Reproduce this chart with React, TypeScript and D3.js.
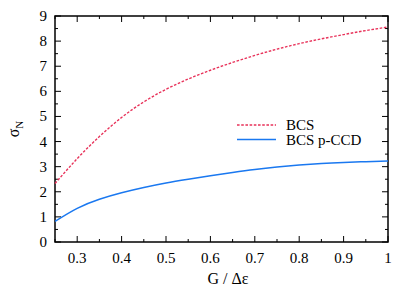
import React, { useEffect, useRef } from "react";
import * as d3 from "d3";

// G / Δε sample points
const gValues = [0.25, 0.3, 0.35, 0.4, 0.45, 0.5, 0.55, 0.6, 0.65, 0.7, 0.75, 0.8, 0.85, 0.9, 0.95, 1.0];
// BCS values (red dashed)
const bcsValues = [2.33, 3.32, 4.2, 4.96, 5.58, 6.08, 6.49, 6.84, 7.15, 7.43, 7.68, 7.9, 8.09, 8.26, 8.42, 8.56];
// BCS p-CCD values (blue solid)
const pccdValues = [0.82, 1.34, 1.7, 1.96, 2.17, 2.35, 2.5, 2.64, 2.77, 2.89, 2.99, 3.07, 3.13, 3.17, 3.2, 3.23];

const xTicks = [0.3, 0.4, 0.5, 0.6, 0.7, 0.8, 0.9, 1];
const yTicks = [0, 1, 2, 3, 4, 5, 6, 7, 8, 9];

const FONT = "'Liberation Serif', 'Times New Roman', serif";
const RED = "#e8325a";
const BLUE = "#1a78f0";

function drawChart(svgEl: SVGSVGElement) {
  const width = 415;
  const height = 290;
  const margin = { top: 16, right: 27, bottom: 48, left: 55 };

  const svg = d3.select(svgEl);
  svg.selectAll("*").remove();

  const x = d3.scaleLinear().domain([0.25, 1]).range([margin.left, width - margin.right]);
  const y = d3.scaleLinear().domain([0, 9]).range([height - margin.bottom, margin.top]);

  const [x0, x1] = x.range();
  const [y0, y1] = y.range();

  const minorX = d3.range(0.25, 1.0001, 0.05).map((v) => +v.toFixed(2));
  const minorY = d3.range(0, 9.0001, 0.5);

  // ticks on all four sides, pointing inwards
  const ticks = svg.append("g").attr("stroke", "#000").attr("stroke-width", 1);
  minorX.forEach((v) => {
    const major = Math.abs(v * 10 - Math.round(v * 10)) < 1e-6;
    const len = major ? 6 : 3;
    ticks.append("line").attr("x1", x(v)).attr("x2", x(v)).attr("y1", y0).attr("y2", y0 - len);
    ticks.append("line").attr("x1", x(v)).attr("x2", x(v)).attr("y1", y1).attr("y2", y1 + len);
  });
  minorY.forEach((v) => {
    const major = Number.isInteger(v);
    const len = major ? 6 : 3;
    ticks.append("line").attr("x1", x0).attr("x2", x0 + len).attr("y1", y(v)).attr("y2", y(v));
    ticks.append("line").attr("x1", x1).attr("x2", x1 - len).attr("y1", y(v)).attr("y2", y(v));
  });

  // frame
  svg
    .append("rect")
    .attr("x", x0)
    .attr("y", y1)
    .attr("width", x1 - x0)
    .attr("height", y0 - y1)
    .attr("fill", "none")
    .attr("stroke", "#000")
    .attr("stroke-width", 1.5);

  // tick labels
  svg
    .append("g")
    .selectAll("text")
    .data(xTicks)
    .enter()
    .append("text")
    .attr("x", (d) => x(d))
    .attr("y", y0 + 21)
    .attr("text-anchor", "middle")
    .style("font-family", FONT)
    .style("font-size", "15px")
    .text((d) => String(d));

  svg
    .append("g")
    .selectAll("text")
    .data(yTicks)
    .enter()
    .append("text")
    .attr("x", x0 - 8)
    .attr("y", (d) => y(d) + 5)
    .attr("text-anchor", "end")
    .style("font-family", FONT)
    .style("font-size", "15px")
    .text((d) => String(d));

  // axis titles
  svg
    .append("text")
    .attr("x", 228)
    .attr("y", 284)
    .attr("text-anchor", "middle")
    .style("font-family", FONT)
    .style("font-size", "16px")
    .text("G / Δε");

  const yl = svg
    .append("text")
    .attr("transform", `translate(19,${(y0 + y1) / 2}) rotate(-90)`)
    .attr("text-anchor", "middle")
    .style("font-family", FONT)
    .style("font-size", "16px");
  yl.append("tspan").text("σ");
  yl.append("tspan").attr("dy", 4).style("font-size", "11px").text("N");

  // curves
  const line = d3
    .line<number>()
    .x((_, i) => x(gValues[i]))
    .y((d) => y(d))
    .curve(d3.curveNatural);

  svg
    .append("path")
    .attr("d", line(bcsValues))
    .attr("fill", "none")
    .attr("stroke", RED)
    .attr("stroke-width", 1.4)
    .attr("stroke-dasharray", "2.6,1.6");

  svg
    .append("path")
    .attr("d", line(pccdValues))
    .attr("fill", "none")
    .attr("stroke", BLUE)
    .attr("stroke-width", 1.5);

  // legend
  const legend = [
    { label: "BCS", color: RED, dash: "2.6,1.6", yPos: 125 },
    { label: "BCS p-CCD", color: BLUE, dash: null, yPos: 139.5 },
  ];
  legend.forEach((l) => {
    svg
      .append("line")
      .attr("x1", 237)
      .attr("x2", 276)
      .attr("y1", l.yPos)
      .attr("y2", l.yPos)
      .attr("stroke", l.color)
      .attr("stroke-width", 1.5)
      .attr("stroke-dasharray", l.dash);
    svg
      .append("text")
      .attr("x", 286)
      .attr("y", l.yPos + 5)
      .style("font-family", FONT)
      .style("font-size", "15px")
      .text(l.label);
  });
}

export default function App() {
  const ref = useRef<SVGSVGElement>(null);
  useEffect(() => {
    if (ref.current) drawChart(ref.current);
  }, []);
  return (
    <svg
      ref={ref}
      width={415}
      height={290}
      style={{ position: "absolute", left: 0, top: 0, background: "#fff" }}
    />
  );
}
